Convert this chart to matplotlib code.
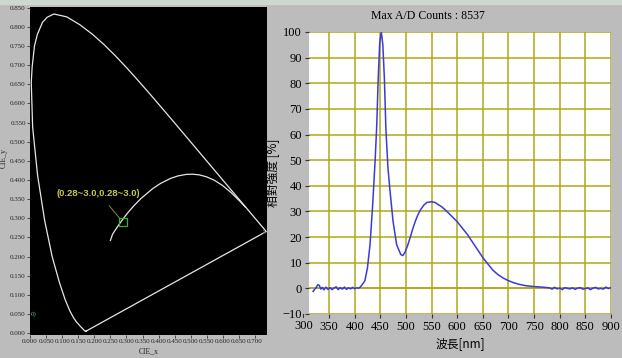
import matplotlib
matplotlib.use("Agg")
import numpy as np
import matplotlib.pyplot as plt
from matplotlib.transforms import blended_transform_factory

# CIE 1931 spectral locus (x, y)
locus_x = [0.1741, 0.1733, 0.1714, 0.1689, 0.1644, 0.1566, 0.1440, 0.1355, 0.1241,
           0.1096, 0.0913, 0.0687, 0.0454, 0.0235, 0.0082, 0.0039, 0.0066, 0.0139,
           0.0227, 0.0389, 0.0530, 0.0743, 0.1142, 0.1547, 0.1929, 0.2296, 0.2658,
           0.3016, 0.3373, 0.3731, 0.4087, 0.4441, 0.4788, 0.5125, 0.5448, 0.5752,
           0.6029, 0.6270, 0.6658, 0.6915, 0.7079, 0.7190, 0.7260, 0.7300, 0.7334,
           0.7347]
locus_y = [0.0050, 0.0048, 0.0051, 0.0069, 0.0109, 0.0177, 0.0297, 0.0399, 0.0578,
           0.0868, 0.1327, 0.2007, 0.2950, 0.4127, 0.5384, 0.6548, 0.6946, 0.7502,
           0.7800, 0.8120, 0.8250, 0.8338, 0.8262, 0.8059, 0.7816, 0.7543, 0.7243,
           0.6923, 0.6589, 0.6245, 0.5896, 0.5547, 0.5202, 0.4866, 0.4544, 0.4242,
           0.3965, 0.3725, 0.3340, 0.3083, 0.2920, 0.2809, 0.2740, 0.2700, 0.2666,
           0.2653]

# blackbody curve (from high to low temperature)
bb_x = [0.250, 0.2565, 0.2637, 0.2807, 0.2952, 0.3064, 0.3221, 0.3451, 0.3805,
        0.4053, 0.4369, 0.4599, 0.4862, 0.5056, 0.5267, 0.5494, 0.5732, 0.5985,
        0.6250, 0.6528, 0.6700]
bb_y = [0.242, 0.2577, 0.2674, 0.2884, 0.3048, 0.3166, 0.3318, 0.3516, 0.3768,
        0.3907, 0.4041, 0.4106, 0.4147, 0.4152, 0.4133, 0.4082, 0.3993, 0.3858,
        0.3674, 0.3444, 0.3290]

point_xy = (0.289, 0.290)
point_label = "(0.28~3.0,0.28~3.0)"

# spectrum: wavelength [nm], relative intensity [%]
wl = [319, 322, 325, 328, 331, 334, 337, 340, 344, 348, 352, 356, 360, 364, 368,
      372, 376, 380, 384, 388, 392, 396, 400, 404, 408, 411,
      415, 420, 425, 430, 435, 440, 443, 446, 449, 452, 455, 458, 461, 465, 469,
      475, 482, 490, 494, 498, 503, 508, 513, 518, 523, 528, 535, 541, 550, 557,
      563, 570, 580, 590, 600, 610, 620, 630, 640, 650, 660, 670, 680, 690, 700,
      710, 720, 735, 750, 765, 775,
      780, 785, 790, 795, 800, 805, 810, 815, 820, 825, 830, 835, 840, 845, 850,
      855, 860, 865, 870, 875, 880, 885, 890, 895, 900]
intensity = [-1.2, -0.4, 0.3, 1.4, 1.2, -0.3, 0.4, -0.6, 0.5, -0.4, 0.3, -0.5, 0.2,
             0.6, -0.5, 0.3, -0.3, 0.5, -0.4, 0.2, -0.2, 0.4, -0.1, 0.2, 0.1, 0.5,
             1.5, 3.0, 8.0, 17.0, 32.0, 50.0, 63.0, 82.0, 96.0, 100.0, 95.0, 82.0,
             62.0, 47.0, 38.0, 26.0, 17.0, 13.2, 12.8, 14.0, 16.5, 19.6, 23.0, 26.0,
             28.5, 30.5, 32.5, 33.5, 33.8, 33.5, 32.7, 31.8, 30.0, 28.0, 26.0, 23.5,
             21.0, 18.0, 15.0, 12.0, 9.5, 7.0, 5.3, 4.0, 3.0, 2.2, 1.6, 1.0, 0.7,
             0.5, 0.3,
             0.2, -0.3, 0.4, -0.2, 0.1, -0.5, 0.3, 0.0, -0.2, 0.2, -0.4, 0.1, 0.3,
             -0.3, -0.1, 0.2, -0.5, 0.1, 0.4, -0.2, 0.0, -0.3, 0.5, -0.1, 0.3]

x_ticks = [350, 400, 450, 500, 550, 600, 650, 700, 750, 800, 850, 900]
y_ticks = [-10, 0, 10, 20, 30, 40, 50, 60, 70, 80, 90, 100]

panel_gray = '#bcbcbc'
grid_col = '#b0a816'
serif = 'Liberation Serif'
cjk = ['Noto Sans CJK TC', 'DejaVu Sans']

fig = plt.figure(figsize=(6.22, 3.58), dpi=100)
fig.patch.set_facecolor(panel_gray)
# light strip along the top edge
fig.add_artist(plt.Rectangle((0, 0.988), 1, 0.012, transform=fig.transFigure,
                             color='#cfd8cf', zorder=0))

# ---- left: chromaticity diagram ----
ax1 = fig.add_axes([30 / 622, 23 / 358, 237 / 622, 328 / 358])
ax1.set_facecolor('black')
ax1.plot(locus_x + [locus_x[0]], locus_y + [locus_y[0]], color='#e6e6e6', lw=0.9)
ax1.plot(bb_x, bb_y, color='#e6e6e6', lw=0.9)
ax1.plot(point_xy[0], point_xy[1], marker='s', ms=6, mfc='none', mec='#2fb52f', mew=0.9)
ax1.annotate(point_label, xy=point_xy, xytext=(0.213, 0.366), textcoords='data',
             color='#c8c84a', fontsize=6.8, fontweight='bold', family='Liberation Sans',
             ha='center', va='center',
             arrowprops=dict(arrowstyle='-', color='#8a8a30', lw=0.7, shrinkA=5, shrinkB=3))
ax1.text(0.003, 0.05, "0)", color='#5fbf5f', fontsize=5, va='center', family=serif)
ax1.set_xlim(0, 0.737)
ax1.set_ylim(-0.005, 0.852)
ax1.set_xticks(np.arange(0, 0.701, 0.05))
ax1.set_yticks(np.arange(0, 0.851, 0.05))
ax1.set_xticklabels([f"{v:.3f}" for v in np.arange(0, 0.701, 0.05)])
ax1.set_yticklabels([f"{v:.3f}" for v in np.arange(0, 0.851, 0.05)])
ax1.tick_params(labelsize=5, length=2, width=0.6, color='#333333', pad=1,
                labelcolor='#222222')
for lab in ax1.get_xticklabels() + ax1.get_yticklabels():
    lab.set_family(serif)
for s in ax1.spines.values():
    s.set_visible(False)
ax1.set_xlabel("CIE_x", fontsize=5.5, family=serif, labelpad=2, color='#222222')
ax1.set_ylabel("CIE_y", fontsize=5.5, family=serif, color='#222222')
ax1.yaxis.set_label_coords(-0.093, 0.54)

# ---- right: spectrum ----
ax2 = fig.add_axes([309 / 622, 44 / 358, 302 / 622, 282 / 358])
ax2.set_facecolor('white')
ax2.plot(wl, intensity, color='#3a3ad8', lw=1.1, zorder=3)
ax2.set_xlim(311, 900)
ax2.set_ylim(-10, 100)
ax2.set_xticks(x_ticks)
ax2.set_yticks(y_ticks)
ax2.grid(True, color=grid_col, lw=1.1)
ax2.axhline(0, color=grid_col, lw=1.1, zorder=1)
ax2.tick_params(labelsize=9, length=3, width=0.8, color='#333333', pad=2)
for lab in ax2.get_xticklabels() + ax2.get_yticklabels():
    lab.set_family(serif)
for s in ax2.spines.values():
    s.set_visible(False)
# the 300 tick sits just left of the plotting area
trans = blended_transform_factory(ax2.transData, ax2.transAxes)
ax2.plot([300, 300], [0, -0.012], transform=trans, color='#333333', lw=0.8, clip_on=False)
ax2.text(300, -0.022, "300", transform=trans, ha='center', va='top', fontsize=9,
         family=serif)
ax2.set_xlabel("波長[nm]", fontsize=8.5, family=cjk, labelpad=3)
ax2.set_ylabel("相對強度 [%]", fontsize=8.5, family=cjk)
ax2.yaxis.set_label_coords(-0.095, 0.5)
fig.text(264 / 622, 1 - 232 / 358, "›", fontsize=8, color='#666666', ha='center',
         va='center')
fig.text(428 / 622, 1 - 16 / 358, "Max A/D Counts : 8537", ha='center', va='center',
         fontsize=8.5, family=serif)

fig.savefig("out.png", dpi=100, facecolor=fig.get_facecolor())
